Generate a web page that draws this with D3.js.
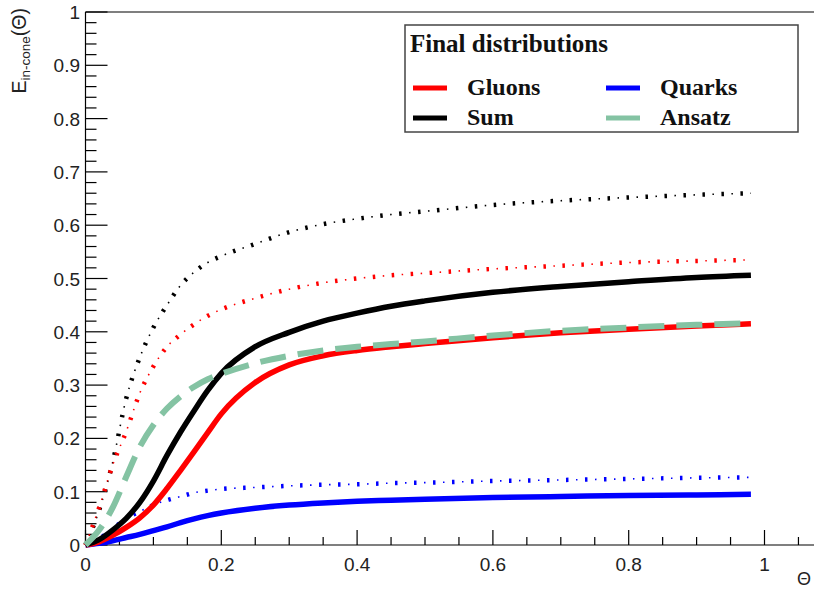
<!DOCTYPE html>
<html><head><meta charset="utf-8">
<script src="https://cdn.jsdelivr.net/npm/d3@7"></script>
<style>body{margin:0;background:#fff}svg{display:block}</style>
</head><body>
<svg id="c" width="814" height="590"></svg>
<script>
const theta = [0,0.02,0.04,0.06,0.08,0.10,0.12,0.14,0.16,0.18,0.20,0.25,0.30,0.35,0.40,0.45,0.50,0.60,0.70,0.80,0.90,0.98];
const sumFinal    = [0,0.01,0.028,0.05,0.08,0.12,0.168,0.212,0.252,0.29,0.322,0.372,0.399,0.42,0.435,0.448,0.458,0.474,0.485,0.494,0.502,0.506];
const gluonsFinal = [0,0.006,0.018,0.033,0.051,0.075,0.106,0.14,0.175,0.211,0.246,0.305,0.338,0.355,0.365,0.372,0.378,0.389,0.398,0.405,0.411,0.415];
const quarksFinal = [0,0.003,0.008,0.014,0.02,0.027,0.034,0.042,0.049,0.055,0.06,0.069,0.075,0.079,0.082,0.084,0.086,0.089,0.091,0.093,0.094,0.095];
const ansatz      = [0,0.028,0.07,0.128,0.184,0.225,0.256,0.279,0.297,0.311,0.321,0.341,0.355,0.365,0.372,0.377,0.382,0.393,0.402,0.408,0.413,0.416];
const sumDotted    = [0,0.065,0.155,0.275,0.352,0.408,0.45,0.487,0.512,0.53,0.542,0.565,0.587,0.602,0.612,0.62,0.626,0.638,0.646,0.652,0.657,0.66];
const gluonsDotted = [0,0.07,0.15,0.213,0.285,0.335,0.372,0.395,0.414,0.43,0.442,0.463,0.48,0.492,0.5,0.506,0.51,0.518,0.524,0.53,0.533,0.535];
const quarksDotted = [0,0.012,0.03,0.05,0.063,0.075,0.084,0.091,0.098,0.102,0.105,0.108,0.111,0.113,0.114,0.116,0.117,0.12,0.122,0.124,0.126,0.127];
const xTicks = [0,0.2,0.4,0.6,0.8,1];
const yTicks = [0,0.1,0.2,0.3,0.4,0.5,0.6,0.7,0.8,0.9,1];
const legendTitle = "Final distributions";
const legendItems = [
  {label:"Gluons", color:"#ff0000", col:0, row:0},
  {label:"Quarks", color:"#0000ff", col:1, row:0},
  {label:"Sum", color:"#000000", col:0, row:1},
  {label:"Ansatz", color:"#84c3a3", col:1, row:1}
];

const svg = d3.select("#c");
const x = d3.scaleLinear().domain([0,1.1]).range([85.5, 85.5+1.1*679]);
const y = d3.scaleLinear().domain([0,1]).range([545,12]);
const axisColor = "#000";

// frame top line
svg.append("line").attr("x1",x(0)).attr("x2",814).attr("y1",y(1)).attr("y2",y(1))
  .attr("stroke",axisColor).attr("stroke-width",1.2);

// X axis
const gx = svg.append("g");
gx.append("line").attr("x1",x(0)).attr("x2",814).attr("y1",y(0)).attr("y2",y(0)).attr("stroke",axisColor).attr("stroke-width",1.2);
d3.range(0,1.101,0.05).forEach(t=>{
  const major = Math.abs(t/0.2 - Math.round(t/0.2))<1e-6;
  gx.append("line").attr("x1",x(t)).attr("x2",x(t)).attr("y1",y(0)).attr("y2",y(0)-(major?15:8))
    .attr("stroke",axisColor).attr("stroke-width",1.2);
});
gx.selectAll("text").data(xTicks).enter().append("text")
  .attr("x",d=>x(d)).attr("y",y(0)+26).attr("text-anchor","middle")
  .attr("font-family","Liberation Sans, Arial, sans-serif").attr("font-size",19).attr("fill","#222")
  .text(d=>d3.format("~g")(d));
svg.append("text").attr("x",811).attr("y",585).attr("text-anchor","end")
  .attr("font-family","Liberation Sans, Arial, sans-serif").attr("font-size",18).attr("fill","#222").text("Θ");

// Y axis
const gy = svg.append("g");
gy.append("line").attr("x1",x(0)).attr("x2",x(0)).attr("y1",y(0)).attr("y2",y(1)).attr("stroke",axisColor).attr("stroke-width",1.2);
d3.range(0,1.0001,0.02).forEach(t=>{
  const major = Math.abs(t/0.1 - Math.round(t/0.1))<1e-6;
  gy.append("line").attr("x1",x(0)).attr("x2",x(0)+(major?22:11)).attr("y1",y(t)).attr("y2",y(t))
    .attr("stroke",axisColor).attr("stroke-width",1.2);
});
gy.selectAll("text").data(yTicks).enter().append("text")
  .attr("x",80).attr("y",d=>y(d)+7).attr("text-anchor","end")
  .attr("font-family","Liberation Sans, Arial, sans-serif").attr("font-size",19).attr("fill","#222")
  .text(d=>d3.format("~g")(d));
const yl = svg.append("text").attr("transform","translate(26,8) rotate(-90)").attr("text-anchor","end")
  .attr("font-family","Liberation Sans, Arial, sans-serif").attr("font-size",19.5).attr("fill","#222");
yl.append("tspan").text("E");
yl.append("tspan").attr("font-size",13.5).attr("dy",4).text("in-cone");
yl.append("tspan").attr("dy",-4).text("(Θ)");

// curves
const line = d3.line().x((d,i)=>x(theta[i])).y(d=>y(d)).curve(d3.curveMonotoneX);
function dotted(vals,color){
  svg.append("path").attr("d",line(vals)).attr("fill","none").attr("stroke",color)
    .attr("stroke-width",4.5).attr("stroke-dasharray","2.5 16.5");
  svg.append("path").attr("d",line(vals)).attr("fill","none").attr("stroke",color)
    .attr("stroke-width",1.6).attr("stroke-dasharray","1.5 17.5").attr("stroke-dashoffset",-10);
}
dotted(sumDotted,"#000000");
dotted(gluonsDotted,"#ff0000");
dotted(quarksDotted,"#0000ff");
function solid(vals,color,dash){
  const p = svg.append("path").attr("d",line(vals)).attr("fill","none").attr("stroke",color)
    .attr("stroke-width",dash?6:5.5).attr("stroke-linejoin","round");
  if(dash) p.attr("stroke-dasharray",dash);
}
solid(quarksFinal,"#0000ff");
solid(gluonsFinal,"#ff0000");
solid(sumFinal,"#000000");
solid(ansatz,"#84c3a3","26 12");

// legend
const lg = svg.append("g");
lg.append("rect").attr("x",405).attr("y",25).attr("width",393).attr("height",107)
  .attr("fill","#fff").attr("stroke","#444").attr("stroke-width",1.5);
lg.append("text").attr("x",410).attr("y",52).attr("font-family","Liberation Serif, Times New Roman, serif")
  .attr("font-weight","bold").attr("font-size",25).attr("fill","#111").text(legendTitle);
legendItems.forEach(it=>{
  const lx = it.col===0 ? 413 : 606;
  const ly = it.row===0 ? 88 : 118;
  lg.append("line").attr("x1",lx).attr("x2",lx+34).attr("y1",ly).attr("y2",ly)
    .attr("stroke",it.color).attr("stroke-width",5);
  lg.append("text").attr("x",it.col===0?467:660).attr("y",ly+7)
    .attr("font-family","Liberation Serif, Times New Roman, serif").attr("font-weight","bold")
    .attr("font-size",24).attr("fill","#111").text(it.label);
});
</script>
</body></html>
